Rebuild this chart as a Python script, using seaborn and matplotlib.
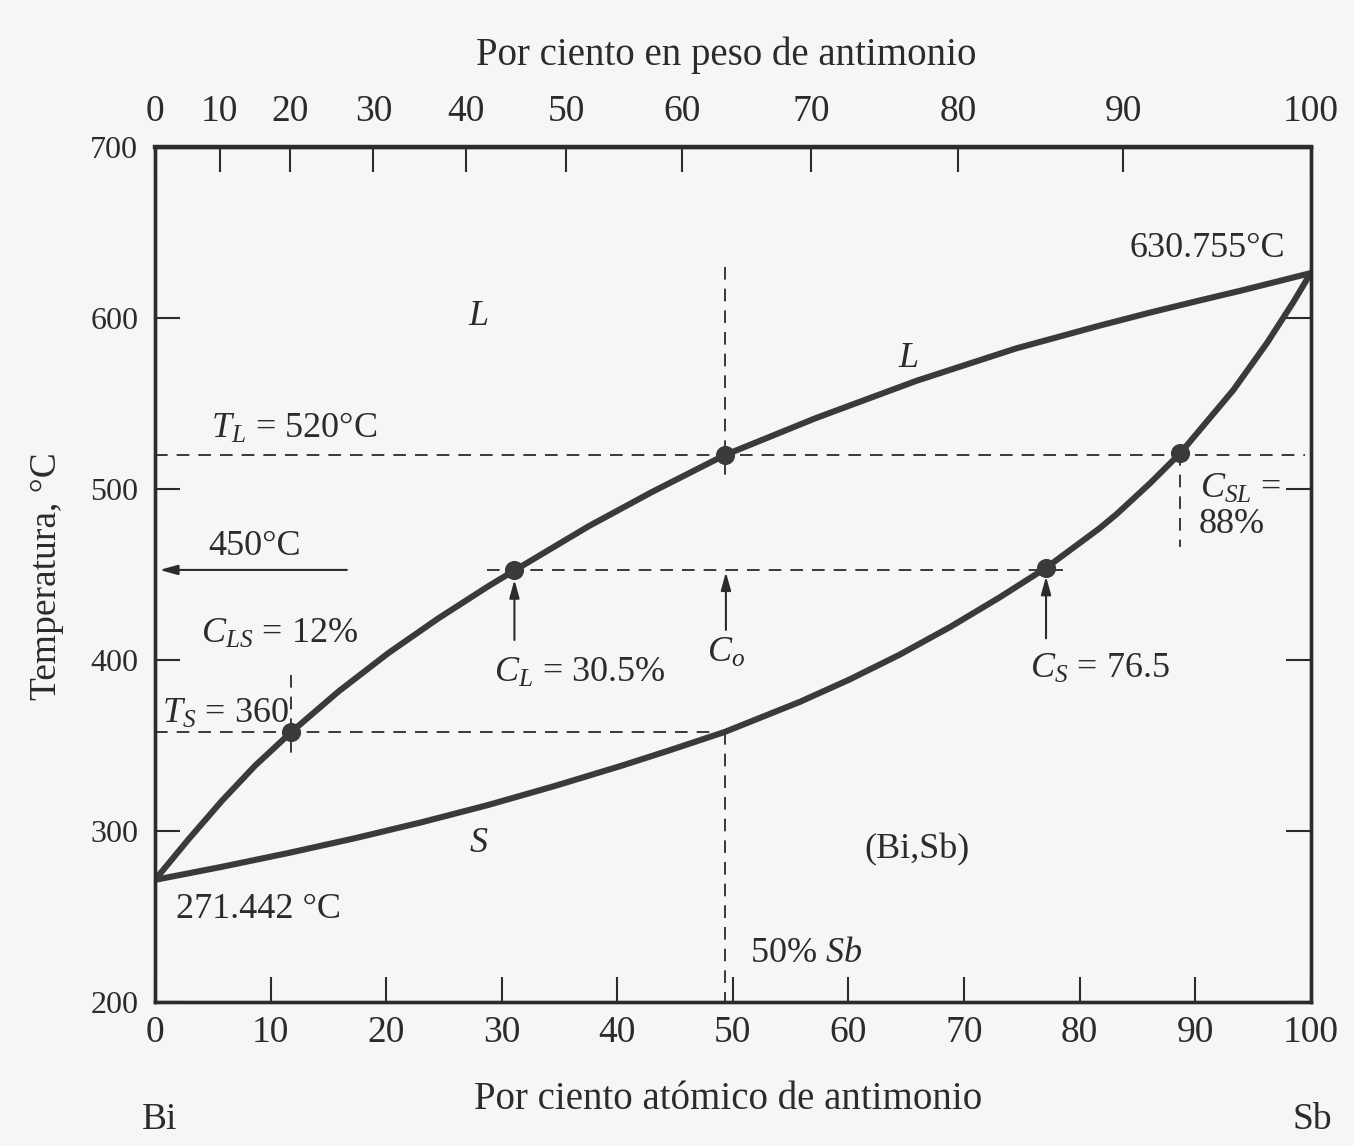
import matplotlib
matplotlib.use("Agg")
import matplotlib.pyplot as plt
import seaborn as sns

# ---------------- data ----------------
liq_at = [0, 2.9, 5.8, 8.65, 11.8, 15.9, 20.2, 24.5, 28.8, 31.1, 37.5, 43.0, 49.3,
          57.2, 65.9, 74.5, 81.7, 86.1, 90.4, 94.0, 100]
liq_T = [271.442, 295.2, 317.8, 338.2, 358, 381.8, 404.2, 424.4, 443.1, 452.5, 478.3, 498.4, 520,
         541.7, 563.5, 582.4, 595.7, 603.4, 610.5, 616.3, 626.5]

sol_at = [0, 5.8, 11.5, 17.3, 23.1, 28.8, 34.6, 40.4, 44.5, 49.3, 55.8, 60.1, 64.4, 68.8,
          73.1, 77.1, 81.7, 83.2, 86.1, 88.7, 93.3, 96.2, 98.5, 100]
sol_T = [271.442, 279.1, 287.1, 295.8, 305.2, 315.2, 326.4, 338.3, 347.2, 358, 375.6, 388.7,
         403.1, 419.4, 436.8, 454, 477, 485.4, 503.5, 521, 558, 585.4, 609.5, 626.5]

dot_at = [11.8, 31.1, 49.3, 77.1, 88.7]
dot_T = [358, 452.5, 520, 454, 521]

bottom_ticks = [0, 10, 20, 30, 40, 50, 60, 70, 80, 90, 100]
top_tick_pos = [0, 5.6, 11.7, 18.9, 26.9, 35.6, 45.6, 56.8, 69.5, 83.8, 100]
top_tick_labels = ["0", "10", "20", "30", "40", "50", "60", "70", "80", "90", "100"]
y_ticks = [200, 300, 400, 500, 600, 700]

# dashed guide lines: (x0, x1, y0, y1)
dashed_h = [(0, 99.5, 520, 520), (28.7, 78.9, 453, 453), (0, 49.3, 358, 358)]
dashed_v = [(49.3, 49.3, 630, 505.5), (49.3, 49.3, 358, 200),
            (11.8, 11.8, 391.3, 342.6), (88.7, 88.7, 521, 466.4)]
# arrows: (tail_x, tail_y, head_x, head_y)
arrows = [(16.6, 452.8, 0.4, 452.8), (31.1, 411.8, 31.1, 447),
          (49.4, 417.7, 49.4, 451.5), (77.1, 412.8, 77.1, 449)]

# ---------------- style ----------------
sns.set_theme(style="white")
plt.rcParams["font.family"] = ["Liberation Serif", "DejaVu Serif"]
plt.rcParams["mathtext.fontset"] = "custom"
plt.rcParams["mathtext.rm"] = "Liberation Serif"
plt.rcParams["mathtext.it"] = "Liberation Serif:italic"
plt.rcParams["mathtext.bf"] = "Liberation Serif:bold"
plt.rcParams["lines.solid_joinstyle"] = "round"
plt.rcParams["lines.solid_capstyle"] = "round"

ink = "#2b2b2b"
curve_col = "#3a3a3a"
bg = "#f6f6f4"

fig = plt.figure(figsize=(13.54, 11.46), dpi=100, facecolor=bg)
ax = fig.add_axes([0.1145, 0.1257, 0.8535, 0.7456])
ax.set_facecolor(bg)

ax.set_xlim(0, 100)
ax.set_ylim(200, 700)

# guide lines
for x0, x1, y0, y1 in dashed_h + dashed_v:
    ax.plot([x0, x1], [y0, y1], color=ink, lw=1.3, ls=(0, (7, 5)), zorder=2)

for tx, ty, hx, hy in arrows:
    ax.annotate("", xy=(hx, hy), xytext=(tx, ty),
                arrowprops=dict(arrowstyle="-|>,head_length=0.9,head_width=0.25",
                                color=ink, lw=1.5, shrinkA=0, shrinkB=0), zorder=3)

# curves
sns.lineplot(x=liq_at, y=liq_T, sort=False, estimator=None, color=curve_col, lw=4.4,
             ax=ax, zorder=4)
sns.lineplot(x=sol_at, y=sol_T, sort=False, estimator=None, color=curve_col, lw=4.4,
             ax=ax, zorder=4)
sns.scatterplot(x=dot_at, y=dot_T, color=curve_col, s=190, edgecolor=curve_col,
                linewidth=0, ax=ax, zorder=5)

# axes ticks
ax.set_xticks(bottom_ticks)
ax.set_xticklabels([str(t) for t in bottom_ticks])
ax.set_yticks(y_ticks)
ax.set_yticklabels([str(t) for t in y_ticks])
ax.tick_params(axis="x", direction="in", length=18, width=1.5, colors=ink,
               labelsize=27, pad=10, top=False, bottom=True)
ax.tick_params(axis="y", direction="in", length=18, width=1.5, colors=ink,
               labelsize=23, pad=12, left=True, right=True)
for s in ax.spines.values():
    s.set_linewidth(2.4)
    s.set_color(ink)

ax2 = ax.twiny()
ax2.set_xlim(0, 100)
ax2.set_xticks(top_tick_pos)
ax2.set_xticklabels(top_tick_labels)
ax2.tick_params(axis="x", direction="in", length=18, width=1.5, colors=ink,
                labelsize=27, pad=13)
for s in ax2.spines.values():
    s.set_linewidth(2.4)
    s.set_color(ink)
ax2.spines["top"].set_linewidth(3.2)

ax.set_xlabel("")
ax.set_ylabel("")
fs = 26
ax.text(0.4957, -0.1147, "Por ciento atómico de antimonio", transform=ax.transAxes,
        ha="center", va="center", fontsize=28, color=ink)
ax.text(0.494, 1.108, "Por ciento en peso de antimonio", transform=ax.transAxes,
        ha="center", va="center", fontsize=28, color=ink)
ax.text(-0.0934, 0.4985, "Temperatura, °C", transform=ax.transAxes, rotation=90,
        ha="center", va="center", fontsize=27, color=ink)
ax.text(0.004, -0.138, "Bi", transform=ax.transAxes, ha="center", va="center",
        fontsize=27, color=ink)
ax.text(1.001, -0.138, "Sb", transform=ax.transAxes, ha="center", va="center",
        fontsize=27, color=ink)

# annotations
txt = dict(color=ink, fontsize=fs, zorder=6)
ax.text(28.0, 596, "$L$", ha="center", va="baseline", **txt)
ax.text(65.2, 571.7, "$L$", ha="center", va="baseline", **txt)
ax.text(28.0, 288, "$S$", ha="center", va="baseline", **txt)
ax.text(97.8, 636, "630.755°C", ha="right", va="baseline", **txt)
ax.text(4.8, 530, "$T_L$ = 520°C", ha="left", va="baseline", **txt)
ax.text(4.6, 461.6, "450°C", ha="left", va="baseline", **txt)
ax.text(4.0, 410.2, "$C_{LS}$ = 12%", ha="left", va="baseline", **txt)
ax.text(0.6, 363.4, "$T_S$ = 360", ha="left", va="baseline", **txt)
ax.text(29.3, 387.4, "$C_L$ = 30.5%", ha="left", va="baseline", **txt)
ax.text(47.8, 399, "$C_o$", ha="left", va="baseline", **txt)
ax.text(75.7, 389.4, "$C_S$ = 76.5", ha="left", va="baseline", **txt)
ax.text(90.4, 494.7, "$C_{SL}$ =", ha="left", va="baseline", **txt)
ax.text(90.3, 474.3, "88%", ha="left", va="baseline", **txt)
ax.text(65.9, 284, "(Bi,Sb)", ha="center", va="baseline", **txt)
ax.text(1.8, 249, "271.442 °C", ha="left", va="baseline", **txt)
ax.text(51.5, 223.6, "50% $Sb$", ha="left", va="baseline", **txt)

fig.savefig("out.png", dpi=100, facecolor=bg)
